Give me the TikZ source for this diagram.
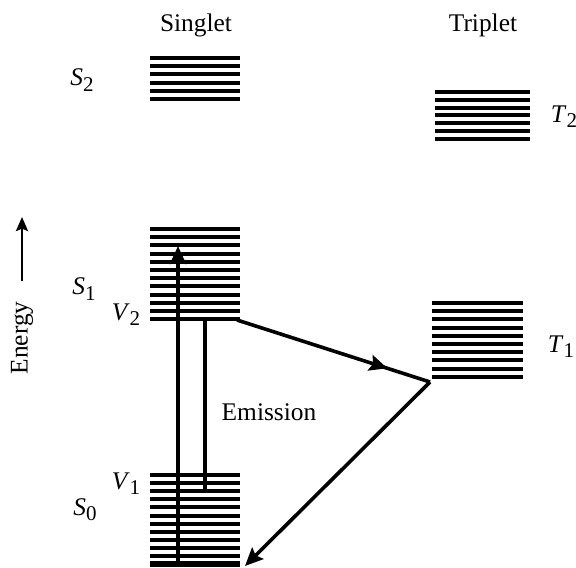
\documentclass[tikz,border=0pt]{standalone}
\usepackage{fontspec}
\setmainfont{Liberation Serif}
\usetikzlibrary{arrows.meta}
\usetikzlibrary{decorations.markings}
\tikzset{>={Stealth[length=7pt,width=6pt,inset=1.2pt]}}
\tikzset{level/.style={line width=2pt}}
\tikzset{trans/.style={line width=1.8pt}}
\tikzset{bighead/.style={-{Stealth[length=9pt,width=8pt,inset=1.5pt]}}}
\tikzset{lab/.style={font=\fontsize{12.7}{15}\selectfont}}
\newcommand{\state}[2]{\textit{#1}\raisebox{-0.45ex}{\fontsize{10.5}{12}\selectfont #2}}

\begin{document}
\begin{tikzpicture}[x=0.5pt,y=-0.5pt]
\useasboundingbox (0,0) rectangle (576,567);

\foreach \y in {0,...,5} \draw [level] (150,58+8.2*\y) -- (240,58+8.2*\y);
\foreach \y in {0,...,11} \draw [level] (150,229+8.2*\y) -- (240,229+8.2*\y);
\foreach \y in {0,...,10} \draw [level] (150,475+8.1*\y) -- (240,475+8.1*\y);
\draw [line width=2.6pt] (150,564) -- (240,564);
\foreach \y in {0,...,9} \draw [level] (432,303+8.2*\y) -- (523,303+8.2*\y);
\foreach \y in {0,...,6} \draw [level] (435,92+7.8*\y) -- (530,92+7.8*\y);

\node (singlet) at (196,25) [lab] {Singlet};
\node (triplet) at (483,25) [lab] {Triplet};
\node (s2) at (82,80) [lab] {\state{S}{2}};
\node (t2) at (564,117) [lab] {\state{T}{2}};
\node (s1) at (84,289) [lab] {\state{S}{1}};
\node (v2) at (126,315) [lab] {\state{V}{2}};
\node (t1) at (561,347) [lab] {\state{T}{1}};
\node (emission) at (269,412) [lab] {Emission};
\node (v1) at (126,484) [lab] {\state{V}{1}};
\node (s0) at (85,510) [lab] {\state{S}{0}};
\node (energy) at (22,338) [lab,rotate=90] {Energy};

\coordinate (e0) at (22,281);
\coordinate (e1) at (22,217);
\coordinate (pump0) at (178,567);
\coordinate (pump1) at (178,246);
\coordinate (em0) at (205,320);
\coordinate (em1) at (205,489);
\coordinate (isc0) at (237,320);
\coordinate (isc1) at (430,382);
\coordinate (ph1) at (245,566);

\draw [->, line width=1.3pt] (e0) -- (e1);
\draw [bighead, trans] (pump0) -- (pump1);
\draw [trans] (em0) -- (em1);
\draw [trans, postaction={decorate}, decoration={markings, mark=at position 0.78 with {\arrow{Stealth[length=9pt,width=8pt,inset=1.5pt]}}}] (isc0) -- (isc1);
\draw [bighead, trans] (isc1) -- (ph1);

\end{tikzpicture}
\end{document}
